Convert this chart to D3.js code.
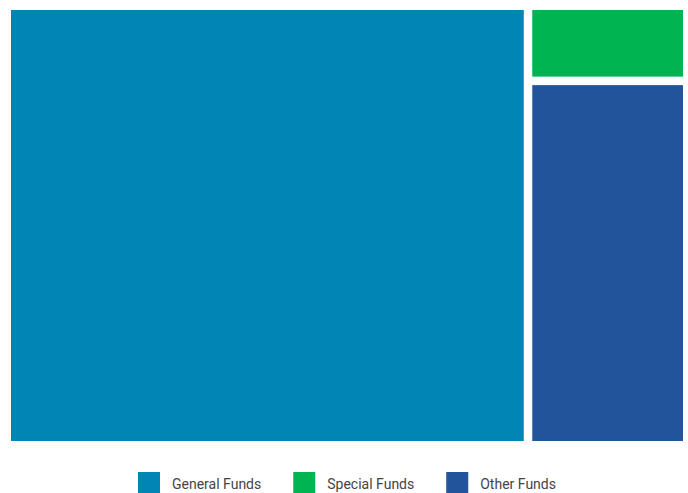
<!DOCTYPE html>
<html>
<head>
<meta charset="utf-8">
<script src="https://cdn.jsdelivr.net/npm/d3@7"></script>
<style>
  html, body { margin: 0; padding: 0; background: #fff; }
  svg { display: block; }
</style>
</head>
<body>
<svg id="chart" width="688" height="493"></svg>
<script>
// Fund shares (percent of total)
const funds = ["General Funds", "Special Funds", "Other Funds"];
const shares = [76.6, 4.0, 19.4];
const colors = ["#0085b5", "#00b551", "#21549a"];

const svg = d3.select("#chart");
const W = 688, H = 493;
const area = { x: 11, y: 10, w: 672, h: 431 };

const color = d3.scaleOrdinal().domain(funds).range(colors);

const root = d3.hierarchy({
  name: "all",
  children: funds.map((f, i) => ({ name: f, value: shares[i] }))
}).sum(d => d.value || 0);

d3.treemap()
  .tile(d3.treemapSquarify)
  .size([area.w, area.h])
  .paddingInner(8.5)
  .round(false)(root);

svg.append("g")
  .attr("transform", `translate(${area.x},${area.y})`)
  .selectAll("rect")
  .data(root.leaves())
  .join("rect")
  .attr("x", d => d.x0)
  .attr("y", d => d.y0)
  .attr("width", d => d.x1 - d.x0)
  .attr("height", d => d.y1 - d.y0)
  .attr("fill", d => color(d.data.name));

// Legend below the treemap
const sw = 22, sh = 21, textGap = 12, itemGap = 32;
const legend = svg.append("g").attr("transform", "translate(0,472)");
const items = legend.selectAll("g").data(funds).join("g");
items.append("rect")
  .attr("width", sw).attr("height", sh)
  .attr("fill", d => color(d));
items.append("text")
  .attr("x", sw + textGap)
  .attr("y", 16.5)
  .attr("font-family", "Roboto, 'Noto Sans', sans-serif")
  .attr("font-size", 14)
  .attr("fill", "#444")
  .text(d => d);

let widths = [];
items.each(function () { widths.push(this.getBBox().width); });
let cx = 138;
items.attr("transform", (d, i) => {
  const t = `translate(${cx},0)`;
  cx += widths[i] + itemGap;
  return t;
});
</script>
</body>
</html>
